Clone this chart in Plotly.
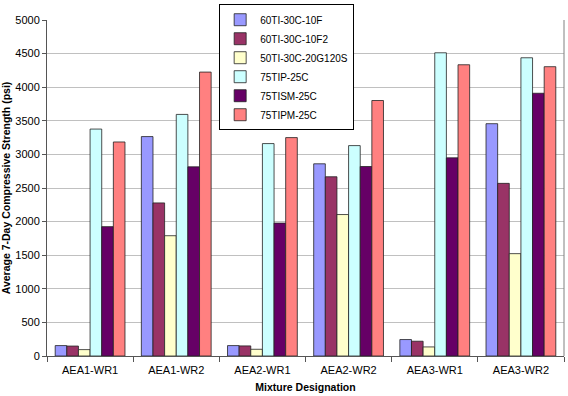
import plotly.graph_objects as go

categories = ["AEA1-WR1", "AEA1-WR2", "AEA2-WR1", "AEA2-WR2", "AEA3-WR1", "AEA3-WR2"]
series_names = ["60TI-30C-10F", "60TI-30C-10F2", "50TI-30C-20G120S",
                "75TIP-25C", "75TISM-25C", "75TIPM-25C"]
s_60TI_10F = [155, 3265, 155, 2860, 245, 3457]
s_60TI_10F2 = [148, 2278, 150, 2667, 220, 2569]
s_50TI_20G = [95, 1790, 100, 2105, 135, 1523]
s_75TIP = [3377, 3595, 3161, 3131, 4512, 4438]
s_75TISM = [1925, 2815, 1978, 2820, 2949, 3910]
s_75TIPM = [3185, 4225, 3250, 3802, 4334, 4305]
colors = ["#9999FF", "#993366", "#FFFFCC", "#CCFFFF", "#660066", "#FF8080"]
y_ticks = list(range(0, 5001, 500))

values = [s_60TI_10F, s_60TI_10F2, s_50TI_20G, s_75TIP, s_75TISM, s_75TIPM]

fig = go.Figure()
for name, vals, col in zip(series_names, values, colors):
    fig.add_trace(go.Bar(x=categories, y=vals, name=name,
                         marker=dict(color=col, line=dict(color="#222222", width=0.8))))

fig.update_layout(
    width=568, height=396,
    margin=dict(l=47, r=4, t=18, b=40),
    paper_bgcolor="white", plot_bgcolor="white",
    barmode="group", bargap=0.19, bargroupgap=0,
    font=dict(family="Liberation Sans, Arial", size=11, color="#000000"),
    legend=dict(x=0.333, y=1.047, xanchor="left", yanchor="top",
                bordercolor="#000000", borderwidth=1, bgcolor="white",
                font=dict(size=10), tracegroupgap=0, itemwidth=30),
    showlegend=True,
)
fig.update_yaxes(range=[0, 5000], tickvals=y_ticks, showgrid=True, gridcolor="#C0C0C0",
                 gridwidth=1, showline=True, linecolor="#555555", linewidth=1,
                 ticks="outside", ticklen=4, tickcolor="#555555", tickfont=dict(size=11),
                 title=dict(text="<b>Average 7-Day Compressive Strength (psi)</b>",
                            font=dict(size=10.5), standoff=5))
fig.update_xaxes(showline=True, linecolor="#555555", linewidth=1,
                 ticks="outside", ticklen=5, tickcolor="#555555", tickson="boundaries",
                 tickfont=dict(size=11), ticklabelstandoff=4,
                 title=dict(text="<b>Mixture Designation</b>", font=dict(size=10.5), standoff=8))
fig.add_shape(type="line", xref="paper", yref="paper", x0=1, x1=1, y0=0, y1=1,
              line=dict(color="#808080", width=1))

fig.write_html("out.html")
